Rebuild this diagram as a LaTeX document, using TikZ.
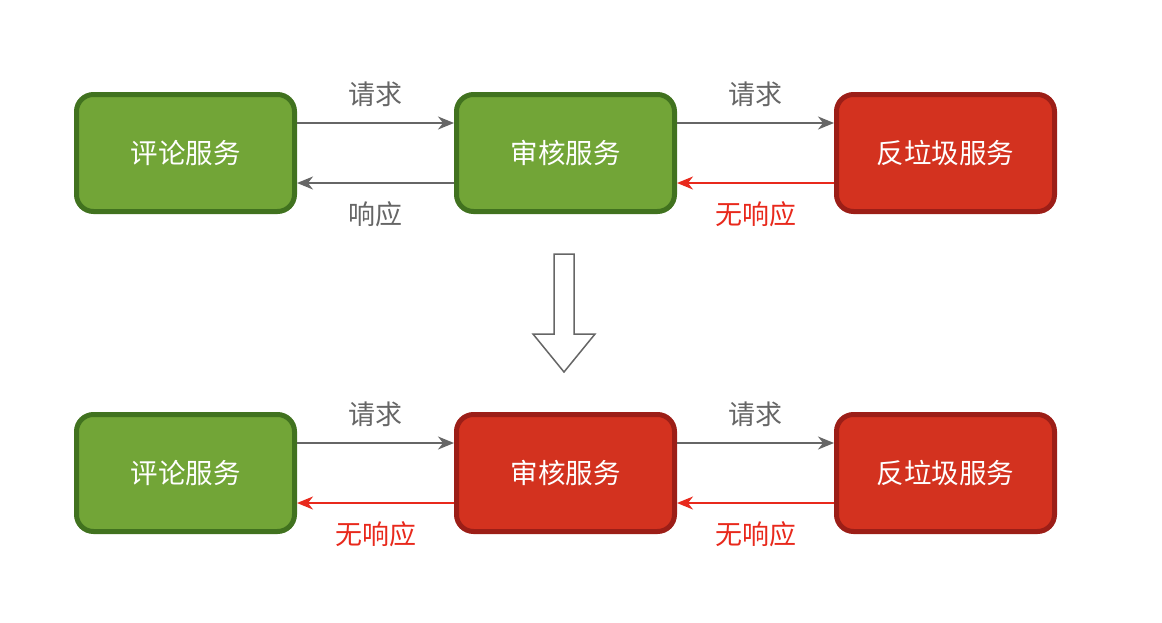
\documentclass[tikz,border=0pt]{standalone}
\usepackage{fontspec}
\setmainfont{Noto Sans CJK SC}
\usetikzlibrary{arrows.meta}
\definecolor{gfill}{HTML}{72A537}
\definecolor{gline}{HTML}{41721F}
\definecolor{rfill}{HTML}{D3321F}
\definecolor{rline}{HTML}{9C1E17}
\definecolor{lgray}{HTML}{666666}
\definecolor{lred}{HTML}{E8291C}
\tikzset{
  svc/.style={draw, line width=5pt, rounded corners=17pt, minimum width=218pt, minimum height=117pt, text=white, font=\fontsize{27.5}{32}\selectfont, inner sep=0pt},
  ok/.style={svc, fill=gfill, draw=gline},
  bad/.style={svc, fill=rfill, draw=rline},
  conn/.style={line width=1.5pt, -{Stealth[length=16pt,width=13pt,inset=5pt]}},
  gconn/.style={conn, draw=lgray},
  rconn/.style={conn, draw=lred},
  lab/.style={font=\fontsize{27}{32}\selectfont, inner sep=0pt, anchor=center},
  glab/.style={lab, text=lgray},
  rlab/.style={lab, text=lred},
}
\begin{document}
\begin{tikzpicture}[x=1pt,y=-1pt]
\useasboundingbox (0,0) rectangle (1162,622);
% top row
\node[ok] (a1) at (185.5,153) {评论服务};
\node[ok] (b1) at (565.5,153) {审核服务};
\node[bad] (c1) at (945.5,153) {反垃圾服务};
% bottom row
\node[ok] (a2) at (185.5,473) {评论服务};
\node[bad] (b2) at (565.5,473) {审核服务};
\node[bad] (c2) at (945.5,473) {反垃圾服务};
% top connectors
\draw[gconn] (a1.east |- 0,123) -- (b1.west |- 0,123) node[midway, yshift=29pt, glab] (l1) {请求};
\draw[gconn] (b1.west |- 0,183) -- (a1.east |- 0,183) node[midway, yshift=-31pt, glab] (l2) {响应};
\draw[gconn] (b1.east |- 0,123) -- (c1.west |- 0,123) node[midway, yshift=29pt, glab] (l3) {请求};
\draw[rconn] (c1.west |- 0,183) -- (b1.east |- 0,183) node[midway, yshift=-31pt, rlab] (l4) {无响应};
% bottom connectors
\draw[gconn] (a2.east |- 0,443) -- (b2.west |- 0,443) node[midway, yshift=29pt, glab] (l5) {请求};
\draw[rconn] (b2.west |- 0,503) -- (a2.east |- 0,503) node[midway, yshift=-31pt, rlab] (l6) {无响应};
\draw[gconn] (b2.east |- 0,443) -- (c2.west |- 0,443) node[midway, yshift=29pt, glab] (l7) {请求};
\draw[rconn] (c2.west |- 0,503) -- (b2.east |- 0,503) node[midway, yshift=-31pt, rlab] (l8) {无响应};
% big down arrow
\draw[lgray, line width=1.5pt, line join=miter, fill=white]
  (554,254) -- (574,254) -- (574,334) -- (595,334) -- (564,372) -- (533,334) -- (554,334) -- cycle;
\end{tikzpicture}
\end{document}
